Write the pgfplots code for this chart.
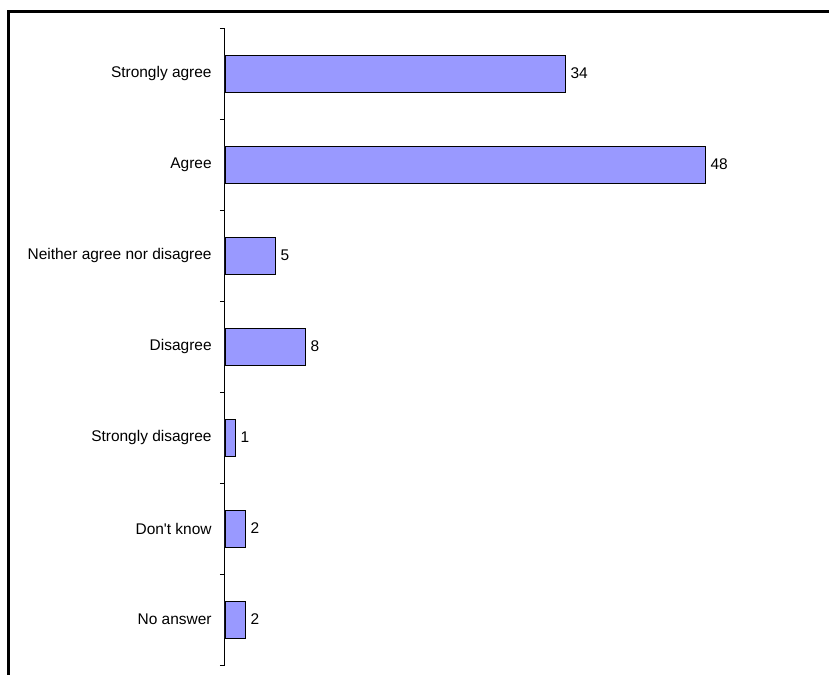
\documentclass[border=0pt]{standalone}
\usepackage{pgfplots}
\pgfplotsset{compat=1.18}
\usepackage{fontspec}
\setmainfont{Liberation Sans}
\definecolor{barfill}{HTML}{9999FF}
\begin{document}
\begin{tikzpicture}[x=1pt,y=1pt]
\useasboundingbox (0,0) rectangle (621.75,506.25);
\draw[line width=2.25pt] (6,-2) -- (6,497.25) -- (625,497.25);
\begin{axis}[
 at={(168.75pt,7.5pt)}, anchor=south west,
 scale only axis, width=450pt, height=477.75pt,
 xmin=0, xmax=60, ymin=0.5, ymax=7.5, y dir=reverse,
 axis x line=none, axis y line*=left,
 ytick={1,2,3,4,5,6,7},
 yticklabels={Strongly agree,Agree,Neither agree nor disagree,Disagree,Strongly disagree,Don\textquotesingle t know,No answer},
 major tick length=0pt,
 minor ytick={0.5,1.5,2.5,3.5,4.5,5.5,6.5,7.5}, minor tick length=3.75pt, tick align=outside,
 tick style={black, line width=0.75pt},
 axis line style={black, line width=0.75pt},
 yticklabel style={font=\fontsize{11.6}{13}\selectfont, xshift=-6.5pt},
 /pgf/number format/assume math mode=true,
 xbar, bar width=27.75pt,
 nodes near coords,
 nodes near coords style={font=\fontsize{11.6}{13}\selectfont, anchor=west, xshift=0.5pt, black},
 clip=false,
]
\addplot[fill=barfill, draw=black, line width=0.6pt] coordinates {(34,1) (48,2) (5,3) (8,4) (1,5) (2,6) (2,7)};
\end{axis}
\end{tikzpicture}
\end{document}
